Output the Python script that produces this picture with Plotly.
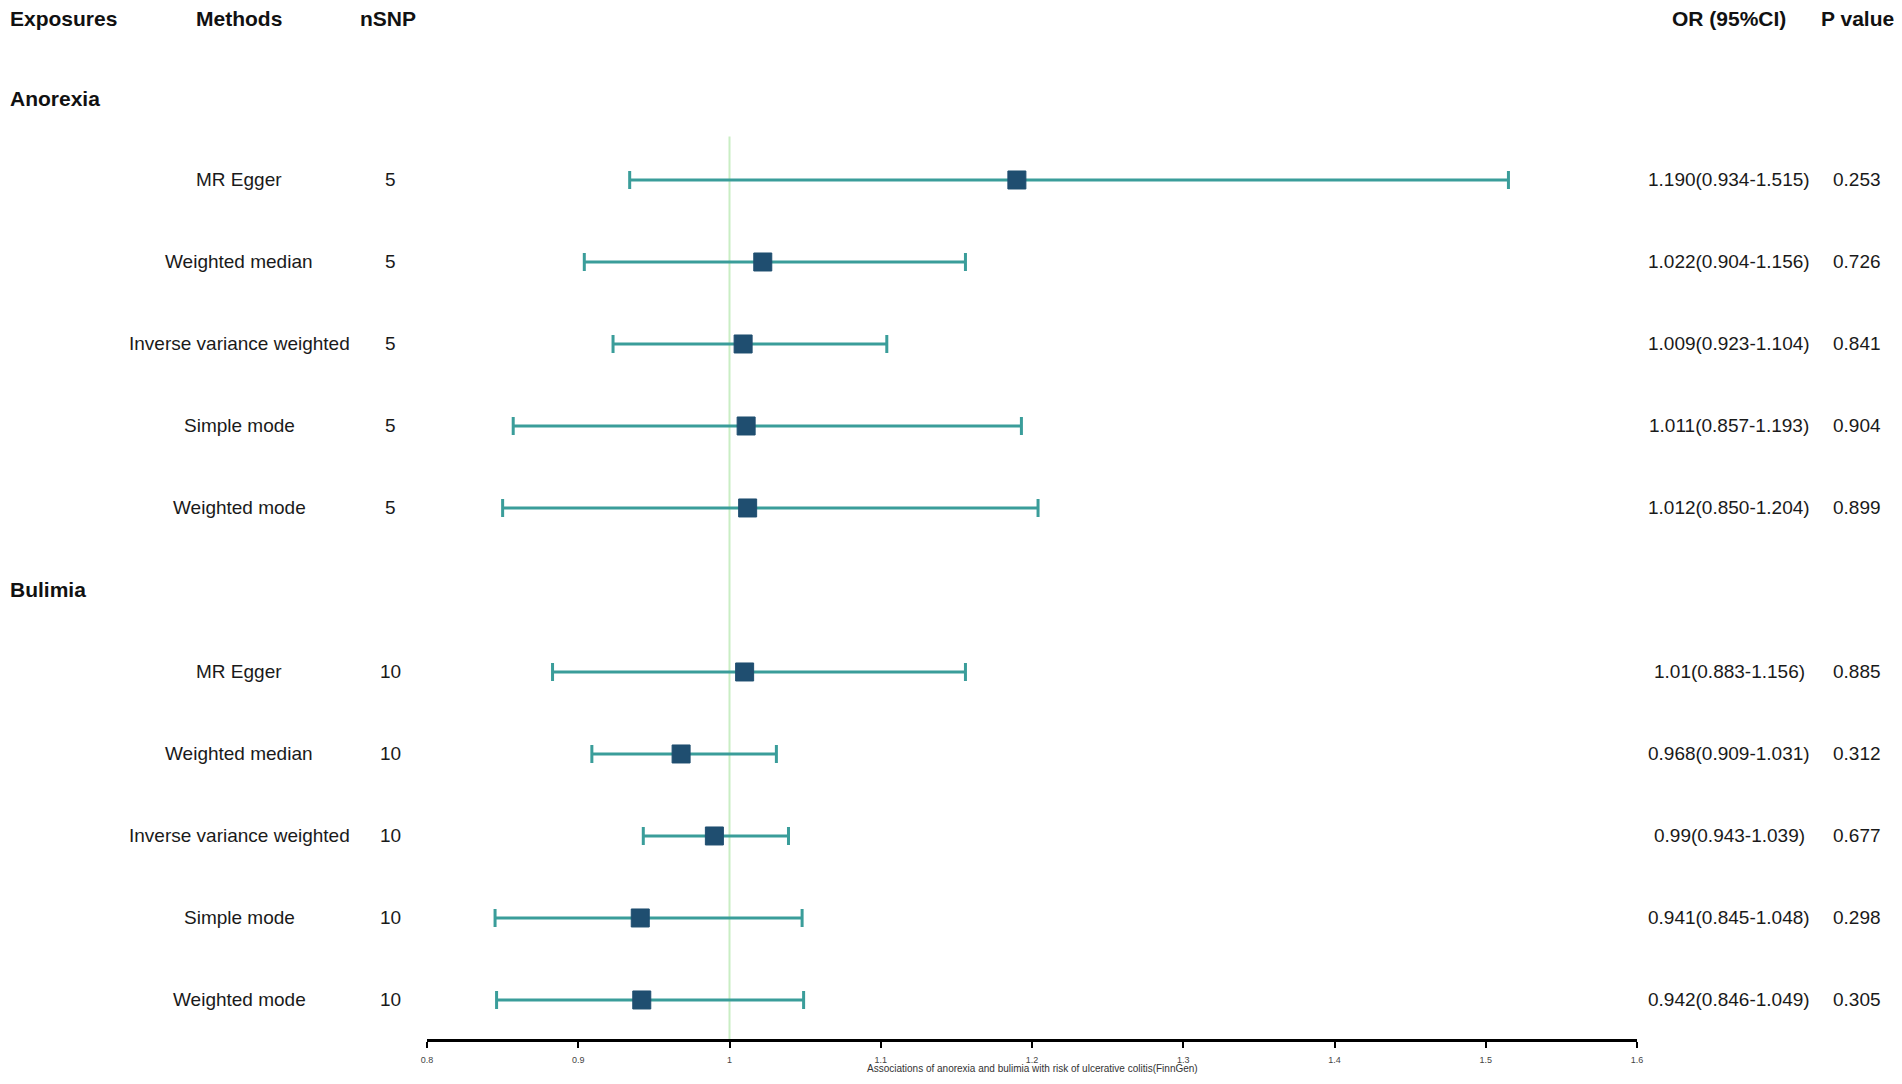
import plotly.graph_objects as go

# groups and methods (top to bottom)
exposures = ["Anorexia", "Bulimia"]
methods = ["MR Egger", "Weighted median", "Inverse variance weighted",
           "Simple mode", "Weighted mode"]

# per row values, anorexia first then bulimia
n_snp = [5, 5, 5, 5, 5, 10, 10, 10, 10, 10]
or_est = [1.190, 1.022, 1.009, 1.011, 1.012, 1.01, 0.968, 0.99, 0.941, 0.942]
ci_low = [0.934, 0.904, 0.923, 0.857, 0.850, 0.883, 0.909, 0.943, 0.845, 0.846]
ci_high = [1.515, 1.156, 1.104, 1.193, 1.204, 1.156, 1.031, 1.039, 1.048, 1.049]
or_labels = ["1.190(0.934-1.515)", "1.022(0.904-1.156)", "1.009(0.923-1.104)",
             "1.011(0.857-1.193)", "1.012(0.850-1.204)", "1.01(0.883-1.156)",
             "0.968(0.909-1.031)", "0.99(0.943-1.039)", "0.941(0.845-1.048)",
             "0.942(0.846-1.049)"]
p_values = ["0.253", "0.726", "0.841", "0.904", "0.899",
            "0.885", "0.312", "0.677", "0.298", "0.305"]

x_ticks = [0.8, 0.9, 1.0, 1.1, 1.2, 1.3, 1.4, 1.5, 1.6]
x_ticktext = ["0.8", "0.9", "1", "1.1", "1.2", "1.3", "1.4", "1.5", "1.6"]
axis_title = "Associations of anorexia and bulimia with risk of ulcerative colitis(FinnGen)"

# page is 1902x1084 but the body has an 8px margin, so the figure is a bit smaller
OFF = 8
W, H = 1902 - 2 * OFF, 1084 - 2 * OFF
FONT = "Liberation Sans, Arial, sans-serif"

# plot area on the page (px)
AX_L, AX_R = 427, 1637

# row index layout: header row 0, then group title + its methods
group_rows, item_rows, item_methods = [], [], []
r = 1
for g in exposures:
    group_rows.append(r)
    r += 1
    for m in methods:
        item_rows.append(r)
        item_methods.append(m)
        r += 1

fig = go.Figure()

fig.add_trace(go.Scatter(
    x=or_est, y=item_rows, mode="markers",
    marker=dict(symbol="square", size=18, color="#1f4e70",
                line=dict(color="#1f4e70", width=1)),
    error_x=dict(type="data", symmetric=False,
                 array=[h - e for h, e in zip(ci_high, or_est)],
                 arrayminus=[e - l for e, l in zip(or_est, ci_low)],
                 color="#3a9d9a", thickness=3, width=9),
    showlegend=False, hoverinfo="skip"))

# reference line at OR = 1
fig.add_shape(type="line", xref="x", yref="y", x0=1, x1=1, y0=1.47, y1=12.476,
              line=dict(color="#c9eec4", width=2), layer="below")


def px_x(p):
    # page pixel -> paper fraction
    return (p - OFF) / W


ann = []
hdr = dict(family=FONT, size=21, color="#111111")
body = dict(family=FONT, size=19, color="#1a1a1a")

# header row, nudged up a little but kept inside the top edge
for txt, p, anchor in [("Exposures", 8, "left"), ("Methods", 239, "center"),
                       ("nSNP", 388, "center"), ("OR (95%CI)", 1729, "center"),
                       ("P value", 1857, "center")]:
    ann.append(dict(x=px_x(p), y=1 + 3 / H, yref="paper", yanchor="top",
                    text=f"<b>{txt}</b>", xanchor=anchor, font=hdr))

for g, gr in zip(exposures, group_rows):
    ann.append(dict(x=px_x(8), y=gr, text=f"<b>{g}</b>", xanchor="left", font=hdr,
                    yref="y", yanchor="middle"))

for i, row in enumerate(item_rows):
    for p, txt in [(239, item_methods[i]), (390, str(n_snp[i])),
                   (1729, or_labels[i]), (1857, p_values[i])]:
        ann.append(dict(x=px_x(p), y=row, text=txt, xanchor="center", font=body,
                        yref="y", yanchor="middle"))

# axis title under the tick labels
ann.append(dict(x=px_x(1032), y=(1084 - OFF - 1068) / H, yref="paper",
                text=axis_title, xanchor="center", yanchor="middle",
                font=dict(family=FONT, size=10, color="#333333")))

for a in ann:
    a.update(xref="paper", showarrow=False)

fig.update_layout(
    width=W, height=H,
    margin=dict(l=0, r=0, t=0, b=0, autoexpand=False),
    paper_bgcolor="white", plot_bgcolor="white",
    annotations=ann,
    xaxis=dict(domain=[px_x(AX_L), px_x(AX_R)], range=[0.8, 1.6],
               tickvals=x_ticks, ticktext=x_ticktext,
               showline=True, linecolor="black", linewidth=2.5,
               ticks="outside", ticklen=6, tickwidth=2, tickcolor="black",
               tickfont=dict(family=FONT, size=9, color="#444444"),
               ticklabelstandoff=4, automargin=False,
               showgrid=False, zeroline=False, fixedrange=True),
    yaxis=dict(domain=[(1084 - OFF - 1039) / H, 1],
               range=[12.476, (OFF - 16) / 82], visible=False,
               showgrid=False, zeroline=False, fixedrange=True),
)

fig.write_html("out.html")
